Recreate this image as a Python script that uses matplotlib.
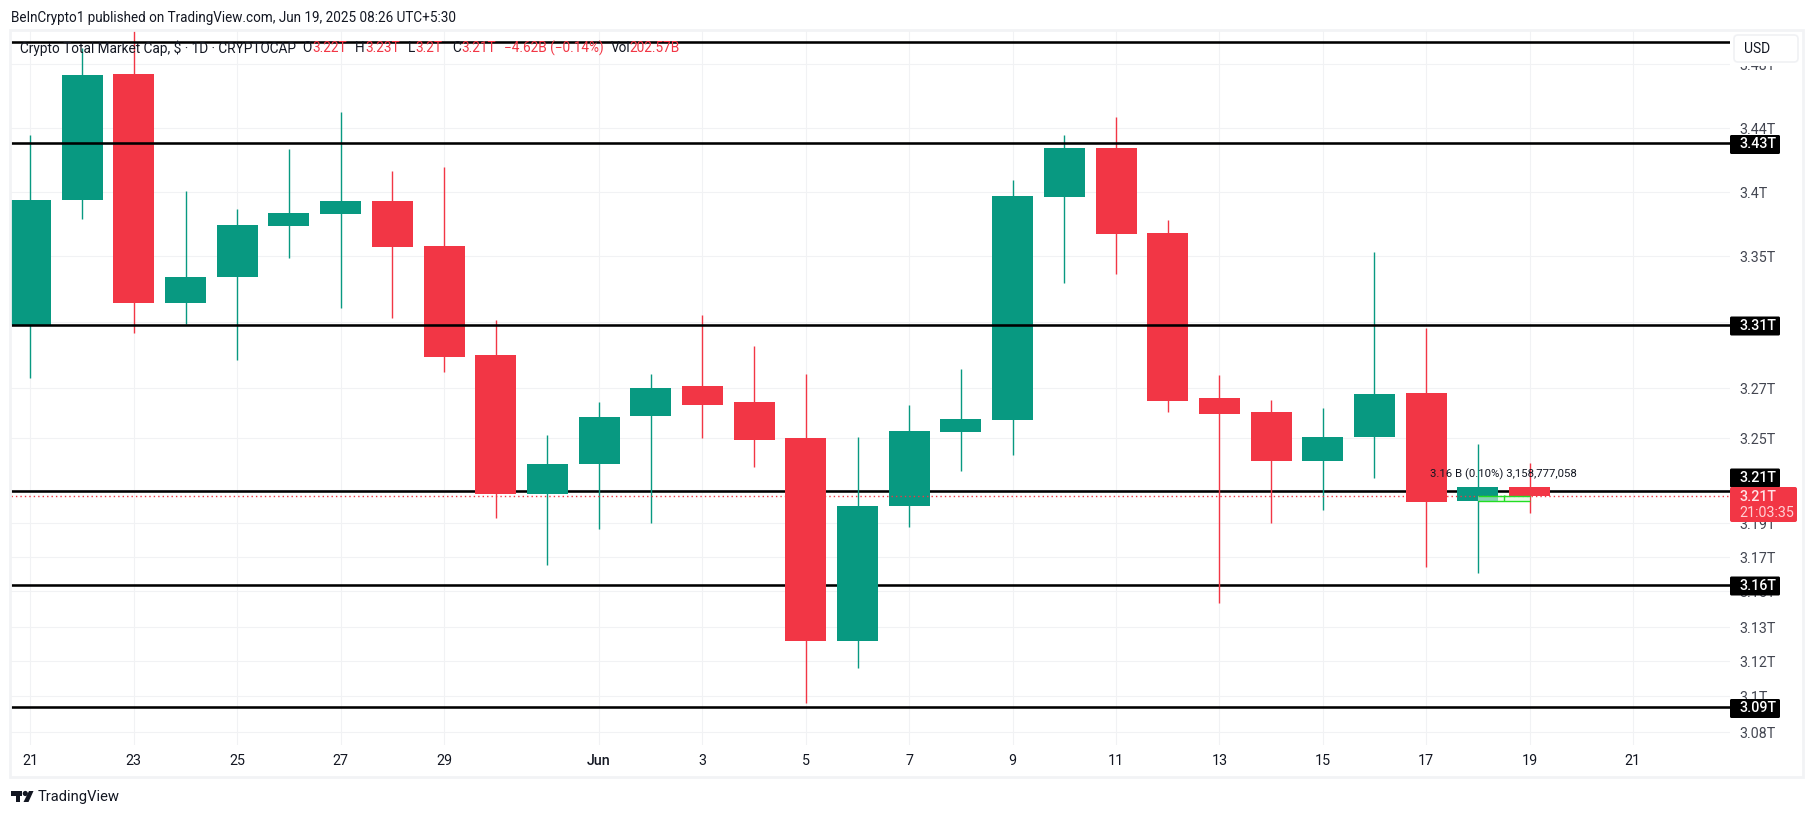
import numpy as np
import matplotlib
matplotlib.use("Agg")
import matplotlib.pyplot as plt
from matplotlib.patches import Rectangle, FancyBboxPatch, Polygon, Circle

plt.rcParams['font.family'] = ['Roboto', 'DejaVu Sans']

# ---- data (values in trillions USD, day index from May 21) ----
days = list(range(30))
highs = [3.4356, 3.49, 3.505, 3.4006, 3.3867, 3.4269, 3.45, 3.4131, 3.4156, 3.3112,
         3.2512, 3.2644, 3.2785, 3.3142, 3.2955, 3.2785, 3.2504, 3.2632, 3.2815, 3.4075,
         3.4356, 3.4469, 3.3781, 3.2779, 3.2652, 3.262, 3.3531, 3.3064, 3.2454, 3.2308]
lows = [3.2762, 3.3789, 3.3033, 3.3088, 3.287, 3.3488, 3.3185, 3.3124, 3.2797, 3.193,
        3.1658, 3.1865, 3.19, 3.25, 3.2277, 3.0961, 3.116, 3.1876, 3.2246, 3.2369,
        3.3336, 3.3394, 3.2604, 3.1447, 3.19, 3.1979, 3.2192, 3.1647, 3.1615, 3.1961]
opens = [3.3086, 3.3937, 3.4738, 3.3215, 3.3373, 3.3734, 3.3828, 3.393, 3.3578, 3.29,
         3.2076, 3.23, 3.2588, 3.2712, 3.2644, 3.25, 3.1259, 3.2003, 3.2524, 3.2572,
         3.3961, 3.4275, 3.368, 3.266, 3.2604, 3.2323, 3.2504, 3.268, 3.2033, 3.2123]
closes = [3.3937, 3.4731, 3.3215, 3.3373, 3.3742, 3.3836, 3.393, 3.357, 3.2888, 3.2076,
          3.23, 3.2584, 3.27, 3.2632, 3.2485, 3.1259, 3.2003, 3.2528, 3.2576, 3.3969,
          3.4275, 3.3672, 3.2648, 3.2596, 3.2323, 3.2504, 3.2676, 3.2027, 3.2123, 3.2064]

tick_values = [3.08, 3.10, 3.12, 3.13, 3.152, 3.17, 3.19, 3.21, 3.25, 3.27, 3.31, 3.35, 3.40, 3.44, 3.48]
tick_labels = ["3.08T", "3.1T", "3.12T", "3.13T", "3.15T", "3.17T", "3.19T", "3.21T",
               "3.25T", "3.27T", "3.31T", "3.35T", "3.4T", "3.44T", "3.48T"]
date_ticks = [0, 2, 4, 6, 8, 11, 13, 15, 17, 19, 21, 23, 25, 27, 29, 31]
date_labels = ["21", "23", "25", "27", "29", "Jun", "3", "5", "7", "9", "11", "13", "15", "17", "19", "21"]

levels_front = [3.494, 3.4306, 3.3085]
levels_back = [3.2096, 3.1553, 3.0939]
last_price = 3.2065
box_low, box_high = 3.2036, 3.2066
box_days = (28, 29)
box_mid = 28.5

# The price axis of the source has unevenly spaced labels; the scale follows them.
scale_values = [2.90, 3.0728, 3.08, 3.10, 3.12, 3.13, 3.152, 3.17, 3.19, 3.21, 3.25, 3.27, 3.31, 3.35, 3.40, 3.44, 3.48, 3.50125, 3.70]
scale_pixels = [1055, 746, 733, 697, 662, 628, 592, 558, 524, 491, 439, 389, 323, 257, 193, 129, 65, 31, -286]
sv = np.array(scale_values)
sp = -np.array(scale_pixels, dtype=float)

def forward(v):
    return np.interp(v, sv, sp)

def inverse(p):
    return np.interp(p, sp, sv)

GREEN = "#089981"
RED = "#F23645"
GRID = "#f1f2f4"
W, H = 1814, 816

fig = plt.figure(figsize=(W / 100, H / 100), dpi=100, facecolor="white")
ax = fig.add_axes([11.0 / W, 1 - 745.3 / H, 1718.6 / W, (746 - 31) / H], zorder=1)
ax.set_yscale("function", functions=(forward, inverse))
ax.set_ylim(3.0728, 3.50125)
ax.set_xlim(-0.377, 32.87)
for s in ax.spines.values():
    s.set_visible(False)

ax.set_yticks(tick_values)
ax.set_yticklabels(tick_labels)
ax.minorticks_off()
ax.set_xticks(date_ticks)
ax.set_xticklabels(date_labels)
ax.yaxis.tick_right()
ax.tick_params(axis="y", length=0, pad=7.0, labelsize=10.3, labelcolor="#434651")
ax.tick_params(axis="x", length=0, pad=6, labelsize=10.3, labelcolor="#131722")
ax.get_xticklabels()[5].set_fontweight("medium")
ax.grid(True, color=GRID, lw=0.8, zorder=0)
ax.set_axisbelow(True)

ax.hlines(levels_back, -0.377, 32.87, color="black", lw=1.85, zorder=1.5)

colors = [GREEN if c >= o else RED for o, c in zip(opens, closes)]
ax.vlines(days, lows, highs, colors=colors, lw=1.0, zorder=2)
ax.bar(days, np.array(closes) - np.array(opens), bottom=opens, width=0.793, color=colors, lw=0, zorder=2.5)

ax.hlines(levels_front, -0.377, 32.87, color="black", lw=1.85, zorder=3)
ax.axhline(last_price, color=RED, lw=1.0, ls=(0, (1, 2.2)), zorder=3)

ax.add_patch(Rectangle((box_days[0], box_low), box_days[1] - box_days[0], box_high - box_low,
                       facecolor="#d7f7d7", alpha=0.6, edgecolor="none", zorder=3.2))
ax.hlines([box_low, box_high], *box_days, color="#22dd22", lw=1.0, zorder=3.3)
ax.vlines(box_mid, box_low, box_high + 0.0006, color="#22dd22", lw=1.0, zorder=3.3)
ax.text(box_mid, 3.2227, "3.16 B (0.10%) 3,158,777,058", ha="center", va="center",
        fontsize=8.2, color="#131722", zorder=4)

# ---- chrome, in pixel coordinates ----
ov = fig.add_axes([0, 0, 1, 1], zorder=5)
ov.set_xlim(0, W)
ov.set_ylim(H, 0)
ov.axis("off")
ov.patch.set_alpha(0)

ov.add_patch(Rectangle((9.5, 30), 1793, 747, fill=False, edgecolor="#f2f3f5", lw=2))
ov.text(11, 18, "BeInCrypto1 published on TradingView.com, Jun 19, 2025 08:26 UTC+5:30",
        fontsize=9.75, color="#131722", va="center", ha="left")

legend_parts = [
    (20, "Crypto Total Market Cap, $ · 1D · CRYPTOCAP", "#131722"),
    (302, "O", "#131722"), (312, "3.22T", RED),
    (355, "H", "#131722"), (365, "3.23T", RED),
    (408, "L", "#131722"), (415, "3.2T", RED),
    (452, "C", "#131722"), (461, "3.21T", RED),
    (504, "−4.62B (−0.14%)", RED),
    (611, "Vol", "#131722"), (629, "202.57B", RED),
]
for x, s, c in legend_parts:
    ov.text(x, 48.5, s, fontsize=9.85, color=c, va="center", ha="left")

# USD button
ov.add_patch(Rectangle((1731, 32), 70, 34, facecolor="white", edgecolor="none"))
ov.add_patch(FancyBboxPatch((1737, 38), 58, 21, boxstyle="round,pad=3,rounding_size=4",
                            facecolor="white", edgecolor="#f0f1f4", lw=1.2))
ov.text(1744, 49, "USD", fontsize=10, color="#131722", va="center", ha="left")

# Level tags
tag_centers = [144.5, 326, 478, 586, 708.5]
tag_texts = ["3.43T", "3.31T", "3.21T", "3.16T", "3.09T"]
for y, s in zip(tag_centers, tag_texts):
    ov.add_patch(FancyBboxPatch((1731, y - 8.5), 48, 17, boxstyle="round,pad=1,rounding_size=1.5",
                                facecolor="black", edgecolor="none"))
    ov.text(1739, y, s, fontsize=10.3, color="white", weight="medium", va="center", ha="left")

# Last price tag
ov.add_patch(FancyBboxPatch((1731, 488), 65, 33, boxstyle="round,pad=1,rounding_size=2",
                            facecolor=RED, edgecolor="none"))
ov.text(1739, 497, "3.21T", fontsize=10.3, color="#ffe3e6", weight="medium", va="center", ha="left")
ov.text(1739, 513, "21:03:35", fontsize=10.3, color="#ffd0d5", va="center", ha="left")

# TradingView mark
ov.add_patch(Polygon([(11, 791), (22, 791), (22, 796), (20, 796), (20, 802), (15.5, 802), (15.5, 796), (11, 796)],
                     facecolor="#131722", edgecolor="none"))
ov.add_patch(Circle((25.3, 793.5), 2.6, facecolor="#131722", edgecolor="none"))
ov.add_patch(Polygon([(29, 791), (33.5, 791), (28.5, 802), (23.5, 802)], facecolor="#131722", edgecolor="none"))
ov.text(37.5, 797, "TradingView", fontsize=10.6, color="#131722", va="center", ha="left")

fig.savefig("out.png", dpi=100)
